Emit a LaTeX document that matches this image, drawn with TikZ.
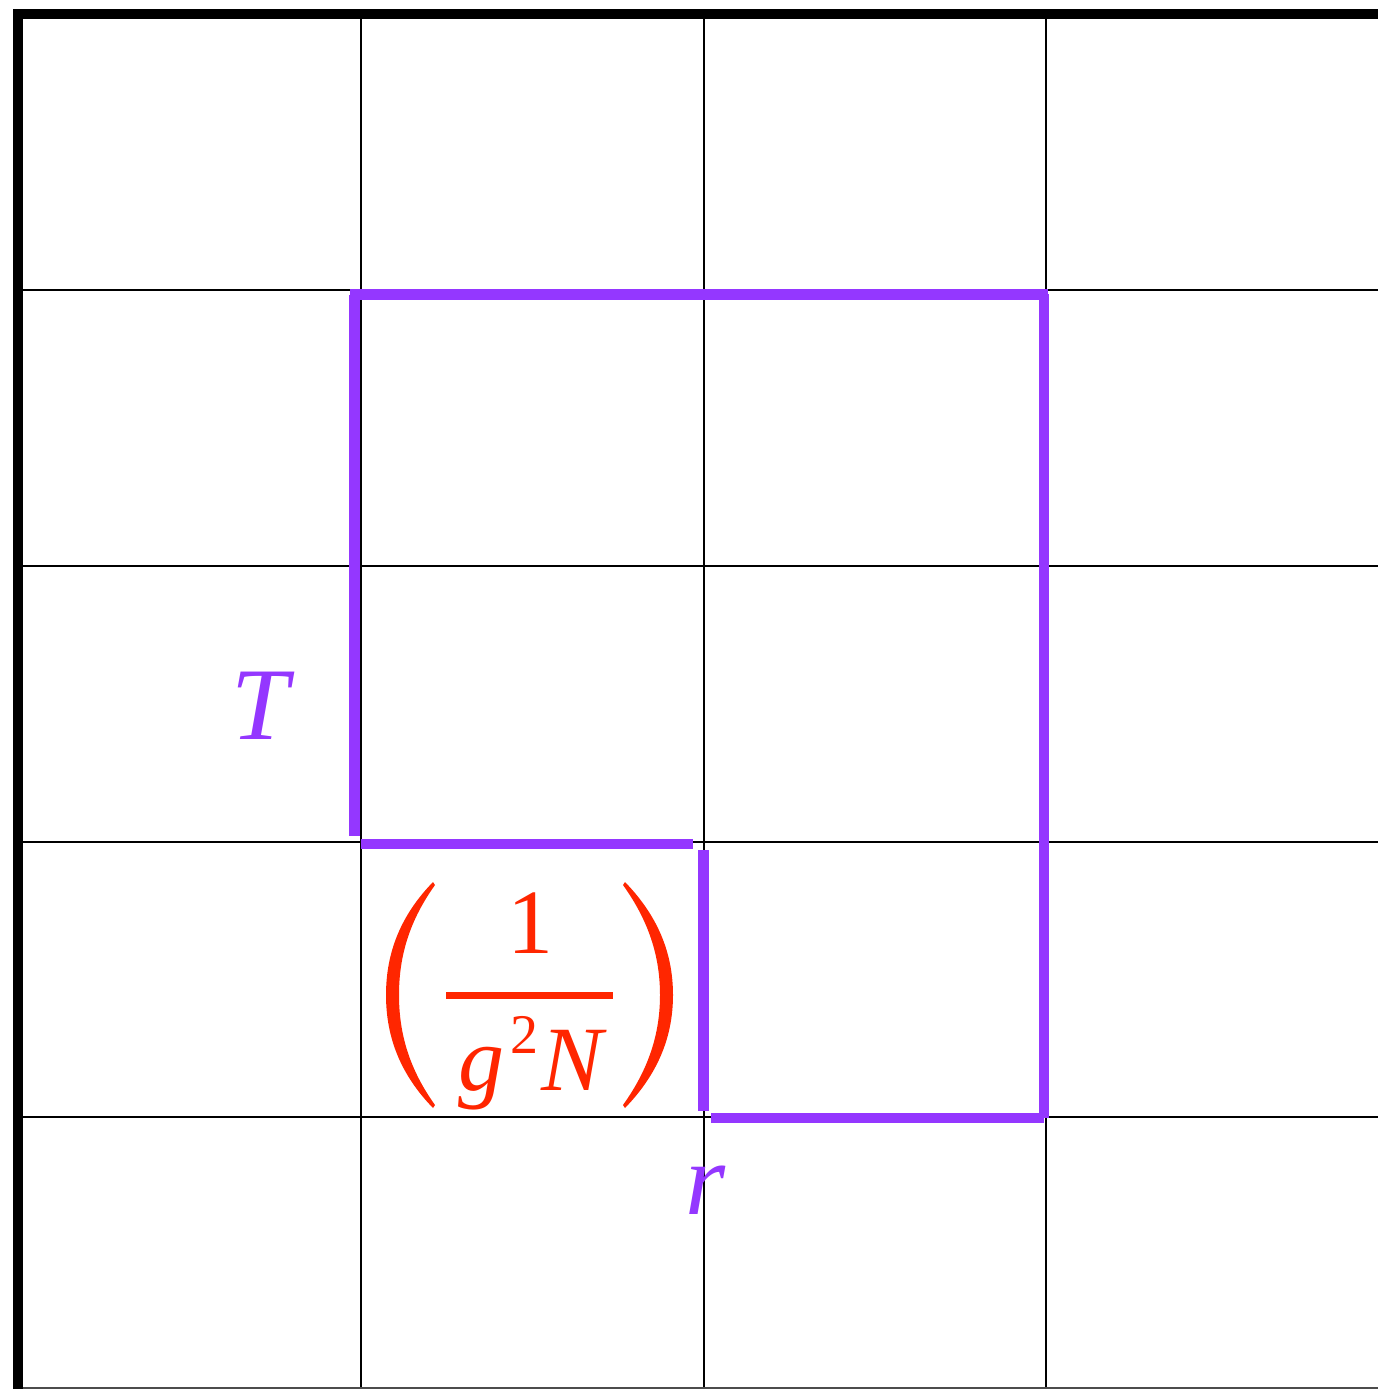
\documentclass[tikz,border=0pt]{standalone}
\usepackage{fontspec}
\setmainfont{Liberation Serif}
\definecolor{pathpurple}{RGB}{148,55,255}
\definecolor{labelred}{RGB}{255,38,0}
\tikzset{
  gridline/.style={draw=black, line width=2pt},
  border/.style={draw=black, line width=10pt},
  pathseg/.style={draw=pathpurple, line width=10.5pt, line cap=butt},
  biglabel/.style={inner sep=0pt, anchor=base, font=\fontsize{103}{110}\selectfont},
  fraclabel/.style={inner sep=0pt, anchor=base, text=labelred, font=\fontsize{92}{100}\selectfont},
}
\begin{document}
\begin{tikzpicture}[x=1pt,y=-1pt]
\useasboundingbox (0,0) rectangle (1378,1389);
\fill[white] (0,0) rectangle (1378,1389);
% grid
\foreach \gx in {361,704,1046} \draw[gridline] (\gx,14) -- (\gx,1389);
\foreach \gy in {290,566,842,1117} \draw[gridline] (18,\gy) -- (1378,\gy);
\draw[draw=black!70, line width=2pt] (18,1388) -- (1378,1388);
% thick borders
\draw[border] (18,1389) -- (18,9);
\draw[border] (13,14) -- (1378,14);
% purple path
\draw[pathseg] (354.5,295) -- (354.5,836);
\draw[pathseg] (350,294.5) -- (1048,294.5);
\draw[pathseg] (1044,294) -- (1044,1118);
\draw[pathseg] (711,1118) -- (1044,1118);
\draw[pathseg] (703.5,850) -- (703.5,1111);
\draw[pathseg] (361,844) -- (693,844);
% labels
\node[biglabel, text=pathpurple] (T) at (263,739) {\textit{T}};
\node[biglabel, text=pathpurple] (r) at (706,1214) {\textit{r}};
% fraction
\node[fraclabel] (one) at (530,953) {1};
\draw[labelred, line width=7.5pt] (446,995.5) -- (613,995.5);
\node[fraclabel] (den) at (533,1090) {\textit{g}\hspace{6pt}\raisebox{37pt}{\fontsize{56}{56}\selectfont 2}\hspace{3pt}\textit{N}};
% parentheses
\fill[labelred] (433,882) .. controls (401,915) and (386,952) .. (386,995)
  .. controls (386,1038) and (401,1075) .. (433,1108)
  -- (435,1105) .. controls (410,1070) and (399,1035) .. (399,995)
  .. controls (399,955) and (410,920) .. (435,885) -- cycle;
\fill[labelred] (625,882) .. controls (657,915) and (673,952) .. (673,995)
  .. controls (673,1038) and (657,1075) .. (625,1108)
  -- (623,1105) .. controls (648,1070) and (660,1035) .. (660,995)
  .. controls (660,955) and (648,920) .. (623,885) -- cycle;
\end{tikzpicture}
\end{document}
